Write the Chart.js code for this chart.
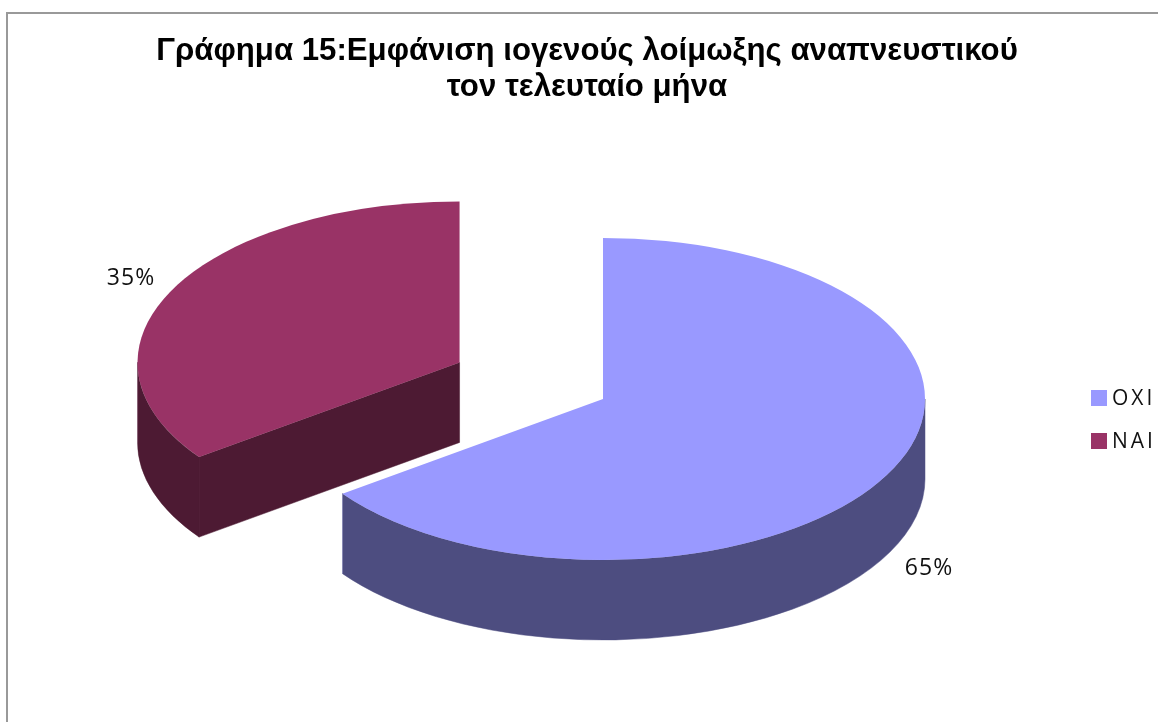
<!DOCTYPE html>
<html>
<head>
<meta charset="utf-8">
<title>Γράφημα 15</title>
<script src="https://cdn.jsdelivr.net/npm/chart.js@4"></script>
<style>
  html, body { margin: 0; padding: 0; background: #fff; }
  #wrap { position: absolute; left: 0; top: 0; width: 1158px; height: 722px; overflow: hidden; }
  #frame { position: absolute; left: 6px; top: 12px; width: 1152px; height: 710px; border-left: 2px solid #999; border-top: 2px solid #999; box-sizing: border-box; }
  canvas { position: absolute; left: 0; top: 0; }
</style>
</head>
<body>
<div id="wrap">
  <div id="frame"></div>
  <canvas id="pie" width="1158" height="722"></canvas>
</div>
<script>
// Chart data
const titleLines = ['Γράφημα 15:Εμφάνιση ιογενούς λοίμωξης αναπνευστικού', 'τον τελευταίο μήνα'];
const categories = ['ΟΧΙ', 'ΝΑΙ'];
const shares = [65, 35];
const topColors = ['#9999ff', '#993366'];
const sideColors = ['#4d4d80', '#4d1a33'];
const edgeColors = ['#8a8ab5', '#8a6478'];

const discCenter = { x: 603, y: 399 };
const discRadius = 322;
const tilt = 0.5;      // vertical squash of the disc
const depth = 80;      // height of the extruded rim
const explode = [0, 161];  // how far each slice is pulled out, before the squash
const labelPos = [[929, 568], [131, 278]];
const legendPos = [[1091, 390], [1091, 433]];
const labelFont = '"Open Sans", sans-serif';

// Draws each arc as a tilted, extruded slice, using the angles the controller computed
const pie3d = {
  id: 'pie3d',
  beforeDatasetDraw(chart) {
    const ctx = chart.ctx;
    const arcs = chart.getDatasetMeta(0).data;
    // back slice first so the larger one paints over it
    [1, 0].forEach(i => {
      const a = arcs[i];
      const mid = (a.startAngle + a.endAngle) / 2;
      const cx = discCenter.x + Math.cos(mid) * explode[i];
      const cy = discCenter.y + Math.sin(mid) * explode[i] * tilt;
      const r = a.outerRadius;
      const px = t => cx + Math.cos(t) * r;
      const py = t => cy + Math.sin(t) * r * tilt;
      const start = a.startAngle, end = a.endAngle;

      ctx.save();
      ctx.fillStyle = sideColors[i];
      ctx.strokeStyle = sideColors[i];
      ctx.lineWidth = 0.5;

      // cut faces, only the ones turned towards the viewer
      [start, end].forEach((t, k) => {
        const facing = k === 0 ? Math.cos(t) < 0 : Math.cos(t) > 0;
        if (!facing) return;
        ctx.beginPath();
        ctx.moveTo(cx, cy);
        ctx.lineTo(px(t), py(t));
        ctx.lineTo(px(t), py(t) + depth);
        ctx.lineTo(cx, cy + depth);
        ctx.closePath();
        ctx.fill();
        ctx.stroke();
      });

      // rim: the part of the arc on the near half of the ellipse
      for (let k = -1; k <= 1; k++) {
        const lo = Math.max(start, k * 2 * Math.PI);
        const hi = Math.min(end, k * 2 * Math.PI + Math.PI);
        if (hi <= lo) continue;
        ctx.strokeStyle = sideColors[i];
        ctx.beginPath();
        ctx.ellipse(cx, cy, r, r * tilt, 0, lo, hi);
        ctx.lineTo(px(hi), py(hi) + depth);
        ctx.ellipse(cx, cy + depth, r, r * tilt, 0, hi, lo, true);
        ctx.closePath();
        ctx.fill();
        ctx.stroke();
        // pale seam where the rim ends
        ctx.strokeStyle = edgeColors[i];
        ctx.lineWidth = 1;
        ctx.beginPath();
        ctx.moveTo(px(hi), py(hi));
        ctx.lineTo(px(hi), py(hi) + depth);
        ctx.stroke();
        ctx.lineWidth = 0.5;
      }

      // top face
      ctx.fillStyle = topColors[i];
      ctx.beginPath();
      ctx.moveTo(cx, cy);
      ctx.ellipse(cx, cy, r, r * tilt, 0, start, end);
      ctx.closePath();
      ctx.fill();
      ctx.restore();
    });
    return false;
  },
  afterDatasetsDraw(chart) {
    const ctx = chart.ctx;
    ctx.save();
    ctx.fillStyle = '#111';
    ctx.textBaseline = 'middle';

    // percent labels
    ctx.font = '23px ' + labelFont;
    ctx.textAlign = 'center';
    ctx.letterSpacing = '1px';
    const total = shares.reduce((s, v) => s + v, 0);
    shares.forEach((v, i) => {
      ctx.fillText(Math.round(v / total * 100) + '%', labelPos[i][0], labelPos[i][1]);
    });

    // legend, spaced out more than the built-in one allows
    ctx.font = '21px ' + labelFont;
    ctx.textAlign = 'left';
    ctx.letterSpacing = '3px';
    categories.forEach((name, i) => {
      const [x, y] = legendPos[i];
      ctx.fillStyle = topColors[i];
      ctx.fillRect(x, y, 16, 16);
      ctx.fillStyle = '#111';
      ctx.fillText(name, x + 21, y + 9);
    });
    ctx.restore();
  }
};

Chart.defaults.animation = false;

const chart = new Chart(document.getElementById('pie').getContext('2d'), {
  type: 'pie',
  data: {
    labels: categories,
    datasets: [{ data: shares, backgroundColor: topColors, borderWidth: 0, radius: discRadius }]
  },
  options: {
    responsive: false,
    layout: { padding: { left: 16 } },
    plugins: {
      title: {
        display: true,
        text: titleLines,
        color: '#000',
        font: { family: '"Liberation Sans", Arial, sans-serif', size: 31.2, weight: 'bold', lineHeight: 1.16 },
        padding: { top: 33, bottom: 0 }
      },
      legend: { display: false },
      tooltip: { enabled: false }
    }
  },
  plugins: [pie3d]
});
</script>
</body>
</html>
